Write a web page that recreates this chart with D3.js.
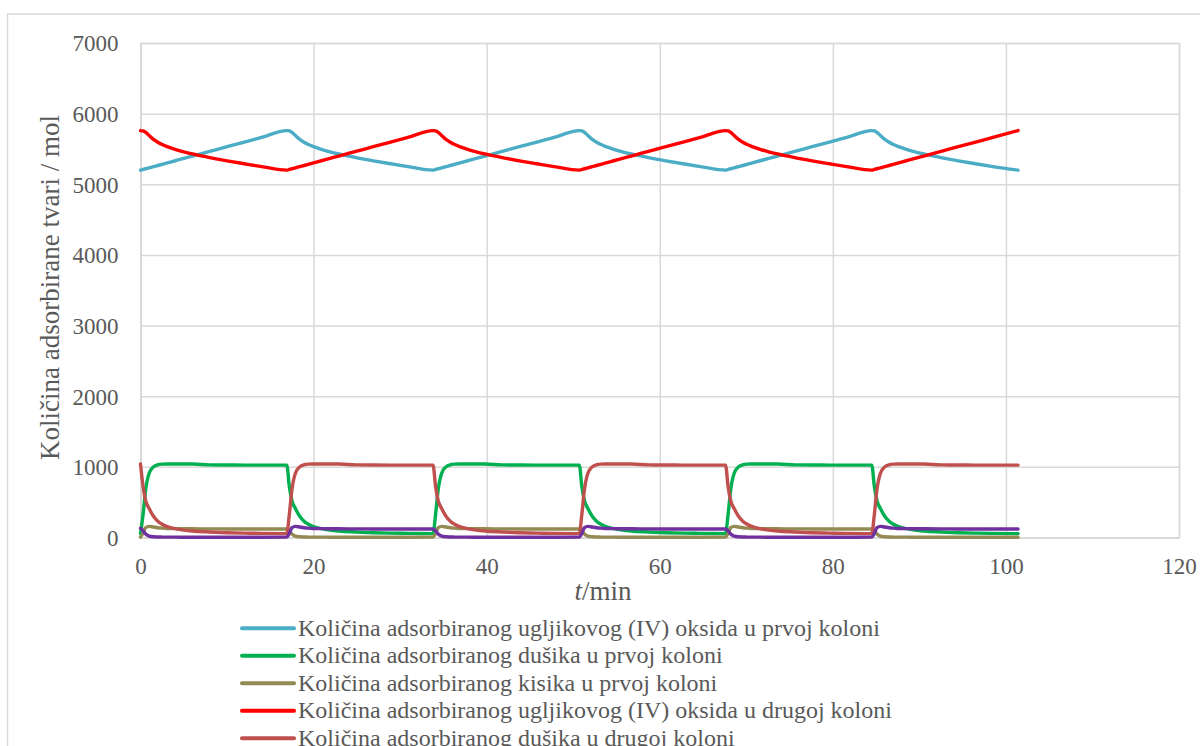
<!DOCTYPE html>
<html>
<head>
<meta charset="utf-8">
<script src="https://cdn.jsdelivr.net/npm/d3@7"></script>
<style>
  html, body { margin: 0; padding: 0; background: #fff; }
  svg { display: block; }
</style>
</head>
<body>
<svg id="chart" width="1200" height="746"></svg>
<script>
// ---- data ----
const time = [
  0, 0.3, 0.6, 1, 1.5, 2, 2.5, 3, 4, 5, 6, 8, 10, 12, 14,
  16.9, 17.2, 17.5, 17.9, 18.4, 18.9, 19.4, 19.9, 20.9, 21.9, 22.9, 24.9, 26.9, 28.9, 30.9,
  33.8, 34.1, 34.4, 34.8, 35.3, 35.8, 36.3, 36.8, 37.8, 38.8, 39.8, 41.8, 43.8, 45.8, 47.8,
  50.7, 51.0, 51.3, 51.7, 52.2, 52.7, 53.2, 53.7, 54.7, 55.7, 56.7, 58.7, 60.7, 62.7, 64.7,
  67.6, 67.9, 68.2, 68.6, 69.1, 69.6, 70.1, 70.6, 71.6, 72.6, 73.6, 75.6, 77.6, 79.6, 81.6,
  84.5, 84.8, 85.1, 85.5, 86.0, 86.5, 87.0, 87.5, 88.5, 89.5, 90.5, 92.5, 94.5, 96.5, 98.5,
  101.4
];

const co2Col1 = [
  5200, 5210, 5220, 5233, 5250, 5266, 5283, 5300, 5333, 5366, 5400, 5466, 5532, 5598, 5664,
  5760, 5755, 5735, 5690, 5635, 5595, 5563, 5537, 5495, 5460, 5430, 5378, 5332, 5290, 5250,
  5200, 5210, 5220, 5233, 5250, 5266, 5283, 5300, 5333, 5366, 5400, 5466, 5532, 5598, 5664,
  5760, 5755, 5735, 5690, 5635, 5595, 5563, 5537, 5495, 5460, 5430, 5378, 5332, 5290, 5250,
  5200, 5210, 5220, 5233, 5250, 5266, 5283, 5300, 5333, 5366, 5400, 5466, 5532, 5598, 5664,
  5760, 5755, 5735, 5690, 5635, 5595, 5563, 5537, 5495, 5460, 5430, 5378, 5332, 5290, 5250,
  5200
];

const n2Col1 = [
  55, 330, 680, 910, 1000, 1030, 1038, 1040, 1040, 1040, 1040, 1028, 1026, 1025, 1025,
  1025, 720, 520, 410, 300, 230, 188, 158, 125, 105, 92, 78, 68, 62, 58,
  55, 330, 680, 910, 1000, 1030, 1038, 1040, 1040, 1040, 1040, 1028, 1026, 1025, 1025,
  1025, 720, 520, 410, 300, 230, 188, 158, 125, 105, 92, 78, 68, 62, 58,
  55, 330, 680, 910, 1000, 1030, 1038, 1040, 1040, 1040, 1040, 1028, 1026, 1025, 1025,
  1025, 720, 520, 410, 300, 230, 188, 158, 125, 105, 92, 78, 68, 62, 58,
  55
];

const o2Col1 = [
  5, 60, 140, 158, 148, 138, 132, 128, 125, 124, 123, 122, 121, 120, 120,
  120, 95, 50, 20, 10, 7, 6, 5, 5, 4, 4, 4, 3, 3, 3,
  5, 60, 140, 158, 148, 138, 132, 128, 125, 124, 123, 122, 121, 120, 120,
  120, 95, 50, 20, 10, 7, 6, 5, 5, 4, 4, 4, 3, 3, 3,
  5, 60, 140, 158, 148, 138, 132, 128, 125, 124, 123, 122, 121, 120, 120,
  120, 95, 50, 20, 10, 7, 6, 5, 5, 4, 4, 4, 3, 3, 3,
  3
];

const co2Col2 = [
  5760, 5755, 5735, 5690, 5635, 5595, 5563, 5537, 5495, 5460, 5430, 5378, 5332, 5290, 5250,
  5200, 5210, 5220, 5233, 5250, 5266, 5283, 5300, 5333, 5366, 5400, 5466, 5532, 5598, 5664,
  5760, 5755, 5735, 5690, 5635, 5595, 5563, 5537, 5495, 5460, 5430, 5378, 5332, 5290, 5250,
  5200, 5210, 5220, 5233, 5250, 5266, 5283, 5300, 5333, 5366, 5400, 5466, 5532, 5598, 5664,
  5760, 5755, 5735, 5690, 5635, 5595, 5563, 5537, 5495, 5460, 5430, 5378, 5332, 5290, 5250,
  5200, 5210, 5220, 5233, 5250, 5266, 5283, 5300, 5333, 5366, 5400, 5466, 5532, 5598, 5664,
  5760
];

const n2Col2 = [
  1040, 720, 520, 410, 300, 230, 188, 158, 125, 105, 92, 78, 68, 62, 58,
  55, 330, 680, 910, 1000, 1030, 1038, 1040, 1040, 1040, 1040, 1028, 1026, 1025, 1025,
  1025, 720, 520, 410, 300, 230, 188, 158, 125, 105, 92, 78, 68, 62, 58,
  55, 330, 680, 910, 1000, 1030, 1038, 1040, 1040, 1040, 1040, 1028, 1026, 1025, 1025,
  1025, 720, 520, 410, 300, 230, 188, 158, 125, 105, 92, 78, 68, 62, 58,
  55, 330, 680, 910, 1000, 1030, 1038, 1040, 1040, 1040, 1040, 1028, 1026, 1025, 1025,
  1025
];

const o2Col2 = [
  130, 95, 50, 20, 10, 7, 6, 5, 5, 4, 4, 4, 3, 3, 3,
  5, 60, 140, 158, 148, 138, 132, 128, 125, 124, 123, 122, 121, 120, 120,
  120, 95, 50, 20, 10, 7, 6, 5, 5, 4, 4, 4, 3, 3, 3,
  5, 60, 140, 158, 148, 138, 132, 128, 125, 124, 123, 122, 121, 120, 120,
  120, 95, 50, 20, 10, 7, 6, 5, 5, 4, 4, 4, 3, 3, 3,
  5, 60, 140, 158, 148, 138, 132, 128, 125, 124, 123, 122, 121, 120, 120,
  120
];

const seriesNames = [
  "Količina adsorbiranog ugljikovog (IV) oksida u prvoj koloni",
  "Količina adsorbiranog dušika u prvoj koloni",
  "Količina adsorbiranog kisika u prvoj koloni",
  "Količina adsorbiranog ugljikovog (IV) oksida u drugoj koloni",
  "Količina adsorbiranog dušika u drugoj koloni",
  "Količina adsorbiranog kisika u drugoj koloni"
];
const seriesColors = ["#4BACC6", "#00B050", "#948A54", "#FF0000", "#C0504D", "#7030A0"];
const seriesValues = [co2Col1, n2Col1, o2Col1, co2Col2, n2Col2, o2Col2];

const xTicks = [0, 20, 40, 60, 80, 100, 120];
const yTicks = [0, 1000, 2000, 3000, 4000, 5000, 6000, 7000];
const yTitle = "Količina adsorbirane tvari / mol";

// ---- drawing ----
const svg = d3.select("#chart");
const FONT = "'Liberation Serif', 'Times New Roman', serif";
const TXT = "#595959";
const GRID = "#d9d9d9";

const x = d3.scaleLinear().domain([0, 120]).range([140.5, 1179]);
const y = d3.scaleLinear().domain([0, 7000]).range([537.5, 43]);

// outer chart border
svg.append("rect")
  .attr("x", 7.5).attr("y", 14)
  .attr("width", 1300).attr("height", 800)
  .attr("fill", "none").attr("stroke", GRID).attr("stroke-width", 1.5);

// gridlines via axes
const gx = svg.append("g")
  .attr("transform", `translate(0,${y(0)})`)
  .call(d3.axisBottom(x).tickValues(xTicks).tickSize(-(y(0) - y(7000))).tickFormat(d3.format("d")));
gx.select(".domain").attr("stroke", GRID).attr("stroke-width", 1.5);
gx.selectAll(".tick line").attr("stroke", GRID).attr("stroke-width", 1.5);
gx.selectAll(".tick text")
  .attr("font-family", FONT).attr("font-size", 23).attr("fill", TXT)
  .attr("dy", null).attr("y", 36.5);

const gy = svg.append("g")
  .attr("transform", `translate(${x(0)},0)`)
  .call(d3.axisLeft(y).tickValues(yTicks).tickSize(-(x(120) - x(0))).tickFormat(d3.format("d")));
gy.select(".domain").attr("stroke", GRID).attr("stroke-width", 1.5);
gy.selectAll(".tick line").attr("stroke", GRID).attr("stroke-width", 1.5);
gy.selectAll(".tick text")
  .attr("font-family", FONT).attr("font-size", 23).attr("fill", TXT)
  .attr("x", -22).attr("dy", "0.34em");

// series lines
const line = d3.line().x((d, i) => x(time[i])).y(d => y(d)).curve(d3.curveMonotoneX);
seriesValues.forEach((vals, k) => {
  svg.append("path")
    .datum(vals)
    .attr("d", line)
    .attr("fill", "none")
    .attr("stroke", seriesColors[k])
    .attr("stroke-width", 3.4)
    .attr("stroke-linejoin", "round")
    .attr("stroke-linecap", "round");
});

// axis titles
svg.append("text")
  .attr("transform", `translate(59,${(457 + 118) / 2}) rotate(-90)`)
  .attr("text-anchor", "middle")
  .attr("font-family", FONT).attr("font-size", 27).attr("fill", TXT)
  .text(yTitle);

const xt = svg.append("text")
  .attr("x", 603).attr("y", 600)
  .attr("text-anchor", "middle")
  .attr("font-family", FONT).attr("font-size", 27).attr("fill", TXT);
xt.append("tspan").attr("font-style", "italic").text("t");
xt.append("tspan").text("/min");

// legend
const legend = svg.append("g");
seriesNames.forEach((name, k) => {
  const cy = 628.3 + k * 27.5;
  legend.append("line")
    .attr("x1", 242).attr("x2", 294)
    .attr("y1", cy).attr("y2", cy)
    .attr("stroke", seriesColors[k]).attr("stroke-width", 4)
    .attr("stroke-linecap", "round");
  legend.append("text")
    .attr("x", 298).attr("y", cy + 7.5)
    .attr("font-family", FONT).attr("font-size", 24).attr("fill", TXT)
    .text(name);
});
</script>
</body>
</html>
